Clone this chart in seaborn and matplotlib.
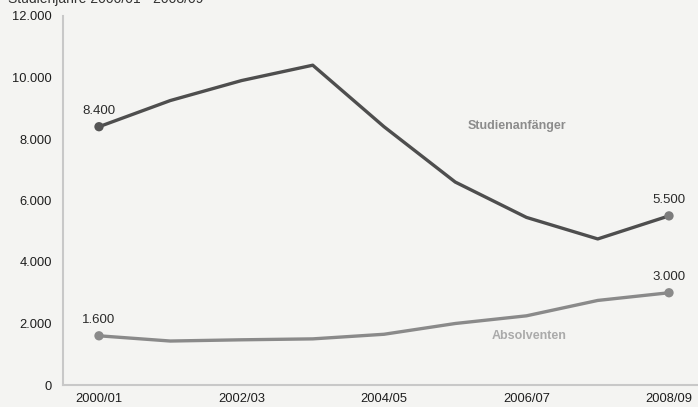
import matplotlib
matplotlib.use("Agg")
import matplotlib.pyplot as plt
import seaborn as sns
import pandas as pd
import numpy as np

years = ["2000/01", "2001/02", "2002/03", "2003/04", "2004/05",
         "2005/06", "2006/07", "2007/08", "2008/09"]
anfaenger = [8400, 9250, 9900, 10400, 8400, 6600, 5450, 4750, 5500]
absolventen = [1600, 1430, 1470, 1500, 1650, 2000, 2250, 2750, 3000]
tick_labels = ["2000/01", "2002/03", "2004/05", "2006/07", "2008/09"]
y_ticks = [0, 2000, 4000, 6000, 8000, 10000, 12000]
title = "Studienjahre 2000/01 - 2008/09"

def fmt(v):
    return f"{v:,}".replace(",", ".")

sns.set_style("white")
plt.rcParams['font.family'] = ['Liberation Sans', 'DejaVu Sans']

bg = "#f4f4f2"
fig = plt.figure(figsize=(6.98, 4.07), dpi=100, facecolor=bg)
ax = fig.add_axes([63/698, 22/407, 635/698, 369/407])
ax.set_facecolor(bg)

df = pd.DataFrame({"x": np.arange(len(years)), "Studienanfänger": anfaenger,
                   "Absolventen": absolventen})

sns.lineplot(data=df, x="x", y="Studienanfänger", ax=ax, color="#4e4e4e", lw=2.4)
sns.lineplot(data=df, x="x", y="Absolventen", ax=ax, color="#8a8a8a", lw=2.4)

ends = df.iloc[[0, -1]]
sns.scatterplot(data=ends, x="x", y="Studienanfänger", ax=ax,
                hue="x", palette=["#555555", "#7c7c7c"], legend=False, s=45,
                edgecolor="none", zorder=5)
sns.scatterplot(data=ends, x="x", y="Absolventen", ax=ax, color="#8a8a8a", s=45,
                edgecolor="none", zorder=5)

for i in [0, len(years) - 1]:
    ax.annotate(fmt(anfaenger[i]), (i, anfaenger[i]), xytext=(0, 7),
                textcoords="offset points", ha="center", va="bottom",
                fontsize=9.5, color="#2a2a2a")
    ax.annotate(fmt(absolventen[i]), (i, absolventen[i]), xytext=(0, 7),
                textcoords="offset points", ha="center", va="bottom",
                fontsize=9.5, color="#2a2a2a")

ax.text(5.87, 8420, "Studienanfänger", ha="center", va="center", fontsize=9,
        fontweight="bold", color="#8c8c8c")
ax.text(6.03, 1590, "Absolventen", ha="center", va="center", fontsize=9,
        fontweight="bold", color="#aaaaaa")

ax.set_xlim(-36/71.25, 8 + 29/71.25)
ax.set_ylim(0, 12000)
ax.set_xticks([0, 2, 4, 6, 8])
ax.set_xticklabels(tick_labels)
ax.set_yticks(y_ticks)
ax.set_yticklabels([fmt(v) for v in y_ticks])
ax.tick_params(axis="both", length=0, labelsize=9.3, colors="#1e1e1e")
ax.tick_params(axis="x", pad=6)
ax.tick_params(axis="y", pad=8)
ax.set_xlabel("")
ax.set_ylabel("")
for s in ["top", "right"]:
    ax.spines[s].set_visible(False)
for s in ["left", "bottom"]:
    ax.spines[s].set_color("#c8c8c8")
    ax.spines[s].set_linewidth(1.5)

fig.text(8/698, 1 - 3/407, title, ha="left", va="baseline", fontsize=10,
         color="#333333")

fig.savefig("out.png", dpi=100, facecolor=bg)
